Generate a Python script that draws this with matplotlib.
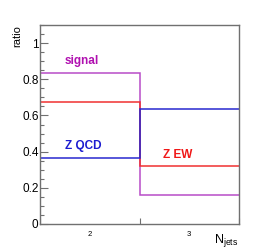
import matplotlib
matplotlib.use("Agg")
import matplotlib.pyplot as plt
from matplotlib.ticker import MultipleLocator, FixedLocator

plt.rcParams["font.family"] = ["Liberation Sans", "DejaVu Sans"]

bin_edges = [1.5, 2.5, 3.5]
bin_labels = ["2", "3"]
signal = [0.836, 0.160]
z_ew = [0.676, 0.319]
z_qcd = [0.365, 0.634]

fig = plt.figure(figsize=(2.66, 2.5), dpi=100)
ax = fig.add_axes([40 / 266, 26 / 250, 199 / 266, 199 / 250])

ax.stairs(signal, bin_edges, color="#b84cc8", lw=1.1, baseline=None)
ax.stairs(z_ew, bin_edges, color="#f03030", lw=1.1, baseline=None)
ax.stairs(z_qcd, bin_edges, color="#2828d0", lw=1.1, baseline=None)

ax.set_xlim(1.5, 3.5)
ax.set_ylim(0, 1.1)

ax.yaxis.set_major_locator(MultipleLocator(0.2))
ax.yaxis.set_minor_locator(MultipleLocator(0.05))
ax.tick_params(axis="y", which="major", direction="in", length=6, width=0.8,
               color="#707070", labelsize=8.5, pad=1)
ax.tick_params(axis="y", which="minor", direction="in", length=3, width=0.8,
               color="#707070")
ax.set_yticks([0, 0.2, 0.4, 0.6, 0.8, 1.0])
ax.set_yticklabels(["0", "0.2", "0.4", "0.6", "0.8", "1"])

ax.xaxis.set_major_locator(FixedLocator(bin_edges))
ax.set_xticklabels(["", "", ""])
ax.xaxis.set_minor_locator(FixedLocator([2, 3]))
ax.set_xticklabels(bin_labels, minor=True)
ax.tick_params(axis="x", which="major", direction="in", length=4, width=0.8,
               color="#707070")
ax.tick_params(axis="x", which="minor", length=0, labelsize=5.5, pad=5)

for side in ["left", "bottom", "top", "right"]:
    ax.spines[side].set_color("#707070")
    ax.spines[side].set_linewidth(1.0)

ax.text(-0.116, 0.945, "ratio", transform=ax.transAxes, rotation=90,
        fontsize=8, ha="center", va="center")
ax.text(0.998, -0.085, r"N$_{\mathregular{jets}}$", transform=ax.transAxes,
        fontsize=9, ha="right", va="center")

ax.text(1.75, 0.903, "signal", color="#b010b0", fontsize=8.5,
        fontweight="bold", ha="left", va="center")
ax.text(1.75, 0.433, "Z QCD", color="#1c1cd0", fontsize=8.5,
        fontweight="bold", ha="left", va="center")
ax.text(2.74, 0.383, "Z EW", color="#f01818", fontsize=8.5,
        fontweight="bold", ha="left", va="center")

fig.savefig("out.png", dpi=100)
